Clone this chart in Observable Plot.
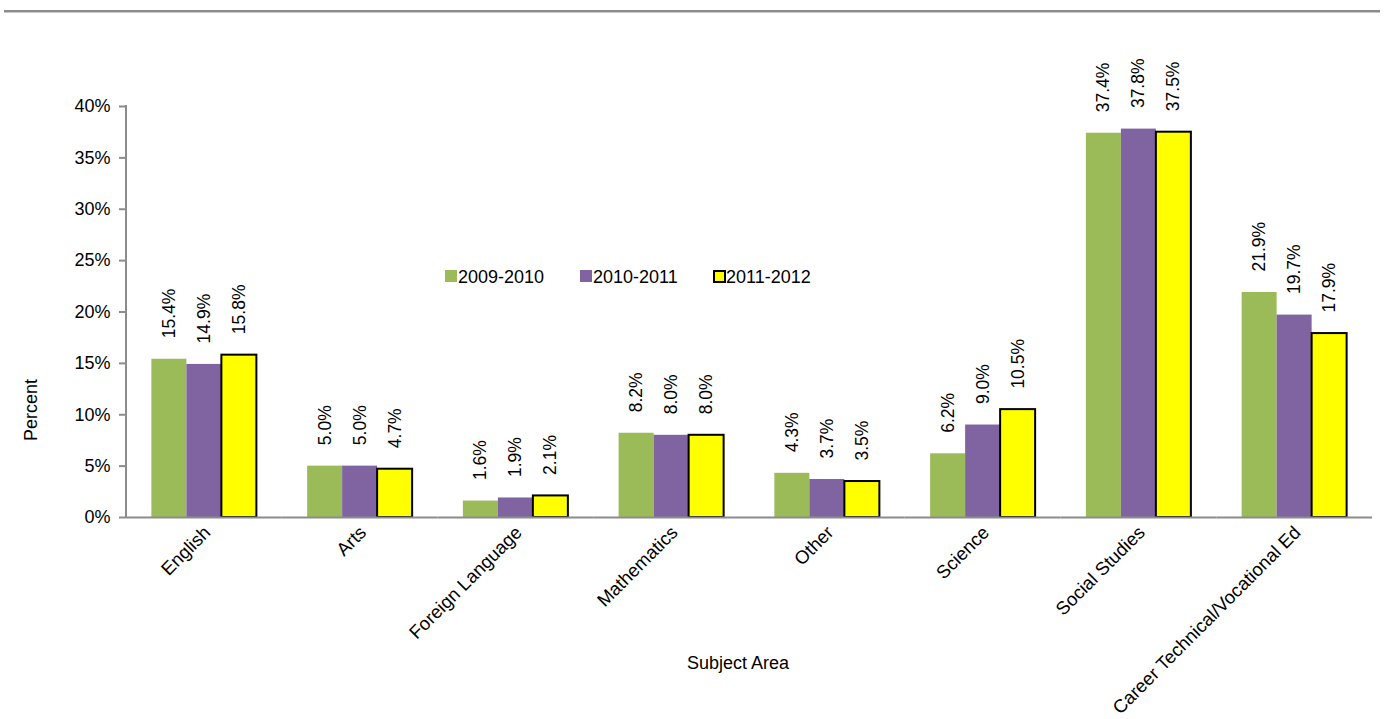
<!DOCTYPE html>
<html><head><meta charset="utf-8">
<script src="https://cdn.jsdelivr.net/npm/d3@7"></script>
<script src="https://cdn.jsdelivr.net/npm/@observablehq/plot@0.6"></script>
<style>
body{margin:0;background:#fff;font-family:"Liberation Sans",Arial,sans-serif;color:#000;}
#wrap{position:relative;width:1384px;height:719px;overflow:hidden;background:#fff}
#wrap svg{position:absolute;left:0;top:0}
.topline{position:absolute;left:4px;top:10px;width:1376px;height:0;border-top:2px solid #8c8c8c;border-bottom:1px solid #c8c8c8}
.lab{position:absolute;font-size:18px;white-space:nowrap;line-height:1}
.sw{position:absolute;width:12px;height:12px;box-sizing:border-box}
</style></head><body>
<div id="wrap">
  <div class="topline"></div>
</div>
<script>
const categories = ["English","Arts","Foreign Language","Mathematics","Other","Science","Social Studies","Career Technical/Vocational Ed"];
const series = ["2009-2010","2010-2011","2011-2012"];
const values2009 = [15.4, 5.0, 1.6, 8.2, 4.3, 6.2, 37.4, 21.9];
const values2010 = [14.9, 5.0, 1.9, 8.0, 3.7, 9.0, 37.8, 19.7];
const values2011 = [15.8, 4.7, 2.1, 8.0, 3.5, 10.5, 37.5, 17.9];
const colors = ["#9BBB59", "#8064A2", "#FFFF00"];
const yTicks = [0, 5, 10, 15, 20, 25, 30, 35, 40];
const xLabel = "Subject Area";
const yLabel = "Percent";

const seriesValues = [values2009, values2010, values2011];
const data = categories.flatMap((c, i) => series.map((s, j) => ({category: c, series: s, value: seriesValues[j][i]})));

const FONT = '"Liberation Sans", Arial, sans-serif';
const plot = Plot.plot({
  width: 1384, height: 719,
  marginLeft: 126, marginRight: 12, marginTop: 106, marginBottom: 202,
  style: {fontFamily: FONT, fontSize: "18px", color: "#000", background: "transparent", overflow: "visible"},
  fx: {domain: categories, padding: 0, round: false, label: null},
  x: {domain: series, paddingInner: 0, paddingOuter: 0.725, round: false, axis: null},
  y: {domain: [0, 40], label: null},
  color: {domain: series, range: colors},
  marks: [
    Plot.barY(data, {fx: "category", x: "series", y: "value", fill: "series"}),
    Plot.barY(data.filter(d => d.series === series[2]), {fx: "category", x: "series", y: "value", fill: "none", stroke: "#000", strokeWidth: 2}),
    Plot.ruleY([0], {stroke: "#8c8c8c", strokeWidth: 2}),
    Plot.text(data, {fx: "category", x: "series", y: "value", text: d => d.value.toFixed(1) + "%", rotate: -90, textAnchor: "start", lineAnchor: "middle", dy: -21, fill: "#000", fontSize: 17.5}),
    Plot.axisY({ticks: yTicks, tickFormat: d => d + "%", tickSize: 7, tickPadding: 9, stroke: "#8c8c8c", strokeWidth: 2, label: null, fontSize: 18}),
    Plot.axisFx({anchor: "bottom", tickRotate: -45, tickSize: 0, tickPadding: 12, dx: 3, label: null, fontSize: 18.5})
  ]
});

const wrap = document.getElementById("wrap");
wrap.appendChild(plot);

// y axis line using the plot's scales
const fx = plot.scale("fx"), y = plot.scale("y");
const x0 = fx.apply(categories[0]);
d3.select(plot).append("line")
  .attr("x1", x0).attr("x2", x0)
  .attr("y1", y.apply(40) - 1).attr("y2", y.apply(0) + 1)
  .attr("stroke", "#8c8c8c").attr("stroke-width", 2);

function addLabel(text, left, top, extra) {
  const d = document.createElement("div");
  d.className = "lab"; d.textContent = text;
  d.style.left = left + "px"; d.style.top = top + "px";
  if (extra) Object.assign(d.style, extra);
  wrap.appendChild(d);
  return d;
}
// axis titles
addLabel(xLabel, 687, 654);
addLabel(yLabel, 0, 0, {transform: "translate(31px,410px) rotate(-90deg) translate(-50%,-50%)", transformOrigin: "0 0"});

// legend
const legendX = [445, 580, 713];
series.forEach((s, i) => {
  const sw = document.createElement("div");
  sw.className = "sw";
  sw.style.left = legendX[i] + "px"; sw.style.top = "270px";
  sw.style.background = colors[i];
  if (i === 2) { sw.style.border = "2px solid #000"; sw.style.width = "13px"; sw.style.height = "13px"; }
  wrap.appendChild(sw);
  addLabel(s, legendX[i] + 13, 268);
});
</script>
</body></html>
